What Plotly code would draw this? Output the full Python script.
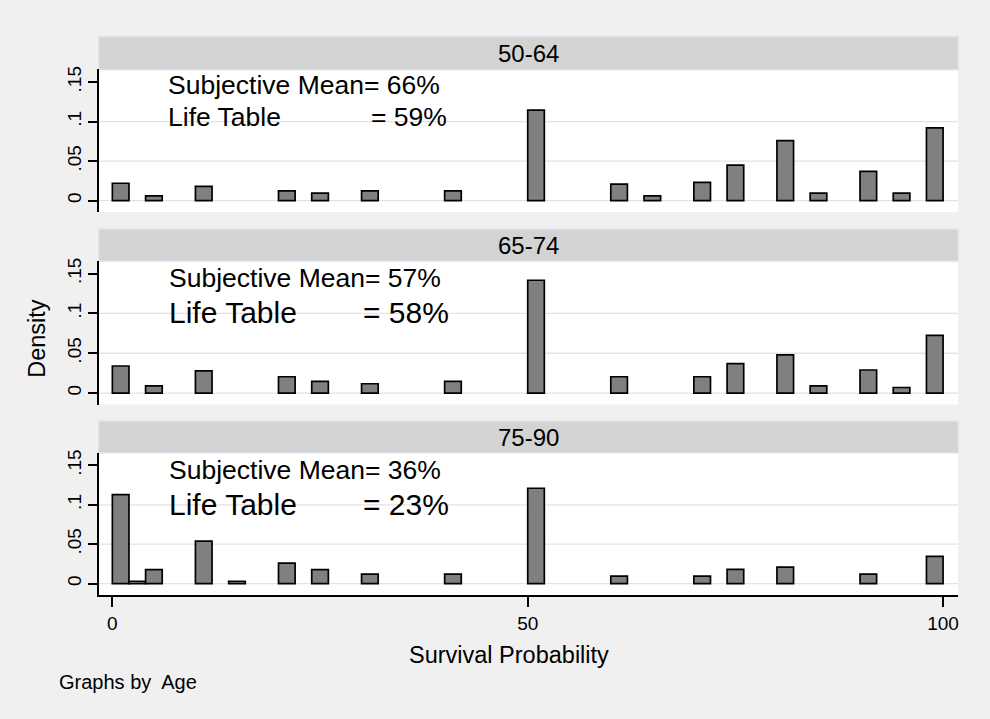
import plotly.graph_objects as go

# Histogram of subjective survival probabilities (bin width 2), by age group
bin_left = [0, 2, 4, 10, 14, 20, 24, 30, 40, 50, 60, 64, 70, 74, 80, 84, 90, 94, 98]

age_groups = ["50-64", "65-74", "75-90"]

density_50_64 = [0.022, None, 0.006, 0.018, None, 0.0125, 0.0095, 0.0125, 0.0125, 0.1145,
                 0.021, 0.006, 0.023, 0.045, 0.076, 0.0095, 0.037, 0.0095, 0.092]
density_65_74 = [0.034, None, 0.009, 0.028, None, 0.0205, 0.0146, 0.0117, 0.0146, 0.1417,
                 0.0205, None, 0.0205, 0.037, 0.048, 0.009, 0.029, 0.007, 0.0725]
density_75_90 = [0.113, 0.003, 0.0178, 0.054, 0.003, 0.026, 0.0178, 0.012, 0.012, 0.121,
                 0.0096, None, 0.0096, 0.018, 0.021, None, 0.012, None, 0.0346]

subjective_mean = ["66%", "57%", "36%"]
life_table = ["59%", "58%", "23%"]

y_ticks = [0, 0.05, 0.1, 0.15]
y_ticklabels = ["0", ".05", ".1", ".15"]
x_ticks = [0, 50, 100]
x_ticklabels = ["0", "50", "100"]

W, H = 990, 719
FONT = "Liberation Sans, Arial, Helvetica, sans-serif"


def px_x(p):
    return p / W


def px_y(p):
    return 1 - p / H


# panel geometry in pixels: (strip top, strip bottom, plot bottom)
panels = [(34, 66.7, 210), (227.3, 259, 403.3), (420, 451.7, 594.5)]
plot_left, plot_right = 99, 959

# text layout for the in-panel notes: (x left, subjective y, life-table y, "=" x, sizes)
notes = [
    (166, 82.5, 114, 369, 26.5, 26.5),
    (167.5, 276, 311, 361.5, 26.5, 30),
    (167.5, 469, 504, 361.5, 26.5, 30),
]

all_density = [density_50_64, density_65_74, density_75_90]

fig = go.Figure()
shapes = []
annotations = []

# white plot region behind each panel
for s_top, s_bot, p_bot in panels:
    shapes.append(dict(type="rect", xref="paper", yref="paper",
                       x0=px_x(plot_left), x1=px_x(plot_right),
                       y0=px_y(p_bot), y1=px_y(s_bot),
                       fillcolor="white", line=dict(width=0), layer="below"))

for i, (dens, label) in enumerate(zip(all_density, age_groups)):
    ax = "" if i == 0 else str(i + 1)
    fig.add_trace(go.Bar(
        x=bin_left, y=dens, width=2, offset=0,
        marker=dict(color="#808080", line=dict(color="black", width=1.7)),
        xaxis="x" + ax, yaxis="y" + ax, showlegend=False,
        hoverinfo="x+y",
    ))
    s_top, s_bot, p_bot = panels[i]
    last = i == len(age_groups) - 1
    fig.update_layout({
        "xaxis" + ax: dict(
            domain=[px_x(plot_left), px_x(plot_right)],
            range=[-1.62, 101.8],
            anchor="y" + ax,
            showgrid=False, zeroline=False,
            showline=last, linecolor="black", linewidth=1.6,
            ticks="outside" if last else "", ticklen=10, tickwidth=1.6, tickcolor="black",
            tickvals=x_ticks if last else [], ticktext=x_ticklabels if last else [],
            showticklabels=last,
            tickfont=dict(family=FONT, size=19, color="black"),
        ),
        "yaxis" + ax: dict(
            domain=[px_y(p_bot), px_y(s_bot)],
            range=[-0.0145, 0.166],
            anchor="x" + ax,
            showgrid=False, zeroline=False,
            showline=True, linecolor="black", linewidth=1.6,
            ticks="outside", ticklen=9, tickwidth=1.6, tickcolor="black",
            tickvals=y_ticks, ticktext=y_ticklabels, tickangle=-90,
            tickfont=dict(family=FONT, size=19, color="black"),
        ),
    })
    # light grid lines at 0, .05 and .1
    for g in y_ticks[:-1]:
        shapes.append(dict(type="line", xref="x" + ax + " domain", yref="y" + ax,
                           x0=0, x1=1, y0=g, y1=g, layer="below",
                           line=dict(color="#e3e3e3", width=1.3)))
    # strip header
    shapes.append(dict(type="rect", xref="paper", yref="paper",
                       x0=px_x(plot_left), x1=px_x(plot_right),
                       y0=px_y(s_bot), y1=px_y(s_top),
                       fillcolor="#d3d3d3", line=dict(color="#dadfe9", width=1.5),
                       layer="below"))
    annotations.append(dict(xref="paper", yref="paper",
                            x=px_x((plot_left + plot_right) / 2), y=px_y((s_top + s_bot) / 2),
                            text=label, showarrow=False, xanchor="center", yanchor="middle",
                            font=dict(family=FONT, size=24, color="black")))
    # notes
    nx, sy, ly, ex, s1, s2 = notes[i]
    annotations.append(dict(xref="paper", yref="paper", x=px_x(nx), y=px_y(sy),
                            text="Subjective Mean= " + subjective_mean[i], showarrow=False,
                            xanchor="left", yanchor="middle",
                            font=dict(family=FONT, size=s1, color="black")))
    annotations.append(dict(xref="paper", yref="paper", x=px_x(nx), y=px_y(ly),
                            text="Life Table", showarrow=False,
                            xanchor="left", yanchor="middle",
                            font=dict(family=FONT, size=s2, color="black")))
    annotations.append(dict(xref="paper", yref="paper", x=px_x(ex), y=px_y(ly),
                            text="= " + life_table[i], showarrow=False,
                            xanchor="left", yanchor="middle",
                            font=dict(family=FONT, size=s2, color="black")))

# axis titles and note
annotations.append(dict(xref="paper", yref="paper", x=px_x(509.5), y=px_y(655),
                        text="Survival Probability", showarrow=False,
                        xanchor="center", yanchor="middle",
                        font=dict(family=FONT, size=23.5, color="black")))
annotations.append(dict(xref="paper", yref="paper", x=px_x(37.5), y=px_y(336.7),
                        text="Density", showarrow=False, textangle=-90,
                        xanchor="center", yanchor="middle",
                        font=dict(family=FONT, size=23.5, color="black")))
annotations.append(dict(xref="paper", yref="paper", x=px_x(57), y=px_y(682),
                        text="Graphs by  Age", showarrow=False,
                        xanchor="left", yanchor="middle",
                        font=dict(family=FONT, size=20, color="black")))

fig.update_layout(
    width=W, height=H,
    margin=dict(l=0, r=0, t=0, b=0),
    paper_bgcolor="#f0f0f0",
    plot_bgcolor="rgba(0,0,0,0)",
    shapes=shapes,
    annotations=annotations,
    barmode="overlay",
    showlegend=False,
)

fig.write_html("out.html")
